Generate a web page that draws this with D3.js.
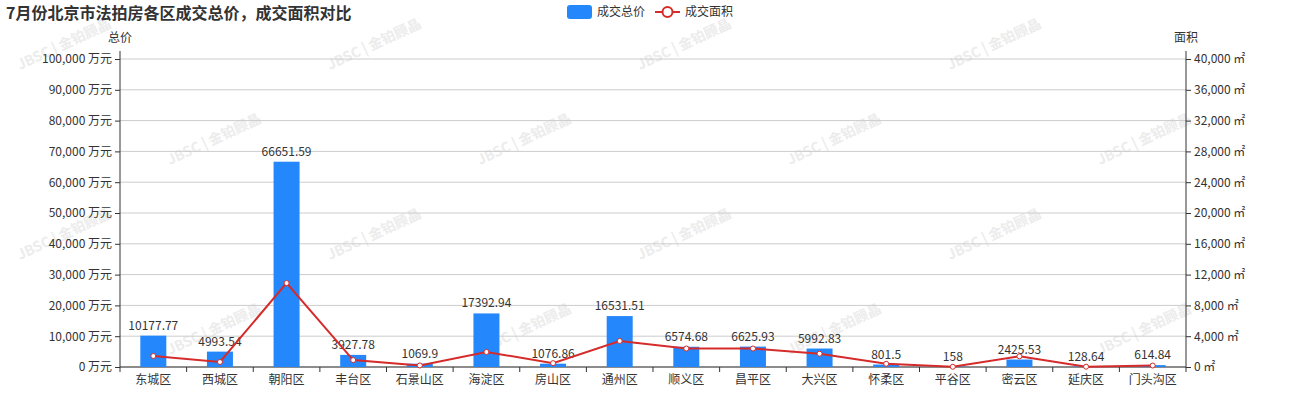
<!DOCTYPE html>
<html><head><meta charset="utf-8">
<script src="https://cdn.jsdelivr.net/npm/d3@7"></script>
<style>body{margin:0;background:#fff}text{font-family:"Microsoft YaHei","Noto Sans CJK SC",sans-serif}</style>
</head><body><svg width="1300" height="400"></svg>
<script>
const categories = ['东城区','西城区','朝阳区','丰台区','石景山区','海淀区','房山区','通州区','顺义区','昌平区','大兴区','怀柔区','平谷区','密云区','延庆区','门头沟区']
const price = [10177.77,4993.54,66651.59,3927.78,1069.9,17392.94,1076.86,16531.51,6574.68,6625.93,5992.83,801.5,158,2425.53,128.64,614.84]
const area = [1430,650,10900,900,200,1950,500,3380,2400,2400,1730,420,30,1390,40,190]
const leftTicks = d3.range(0, 100001, 10000)
const rightTicks = d3.range(0, 40001, 4000)

const svg = d3.select('svg')
const L = 120, R = 1186, T = 59, B = 367
const x = d3.scaleBand().domain(categories).range([L, R])
const y = d3.scaleLinear().domain([0, 100000]).range([B, T])
const y2 = d3.scaleLinear().domain([0, 40000]).range([B, T])
const fmt = d3.format(',')

// watermark
for (let i = 0; i < 4; i++) for (let j = 0; j < 4; j++) {
  svg.append('text').attr('transform', `translate(${20 + i * 310 + (j % 2) * 150},${70 + j * 95}) rotate(-25)`)
    .attr('fill', '#ececec').attr('font-size', 14).attr('font-weight', 'bold').text('JBSC | 金铂顾晶')
}

svg.append('g').selectAll('line').data(leftTicks).join('line')
  .attr('x1', L).attr('x2', R).attr('y1', d => y(d)).attr('y2', d => y(d)).attr('stroke', '#ccc')

const ga = svg.append('g').attr('transform', `translate(${L},0)`)
  .call(d3.axisLeft(y).tickValues(leftTicks).tickFormat(d => fmt(d) + ' 万元').tickSize(5))
const gr = svg.append('g').attr('transform', `translate(${R},0)`)
  .call(d3.axisRight(y2).tickValues(rightTicks).tickFormat(d => fmt(d) + ' ㎡').tickSize(5))
const gx = svg.append('g').attr('transform', `translate(0,${B})`)
  .call(d3.axisBottom(x).tickSize(5))
gx.selectAll('.tick line').attr('transform', `translate(${-x.bandwidth() / 2},0)`)
gx.append('line').attr('x1', R).attr('x2', R).attr('y1', 0).attr('y2', 5).attr('stroke', '#333')
;[ga, gr, gx].forEach(g => {
  g.selectAll('path,line').attr('stroke', '#333')
  g.selectAll('text').attr('fill', '#333').attr('font-size', 12)
})
gx.select('.domain').attr('d', `M${L},0H${R}`)
ga.select('.domain').attr('d', `M0,${B}V${T - 8}`)
gr.select('.domain').attr('d', `M0,${B}V${T - 8}`)

svg.append('text').attr('x', 108).attr('y', 42).attr('font-size', 12).attr('fill', '#333').text('总价')
svg.append('text').attr('x', 1174).attr('y', 42).attr('font-size', 12).attr('fill', '#333').text('面积')

const bw = 26
svg.append('g').selectAll('rect').data(price).join('rect')
  .attr('x', (d, i) => x(categories[i]) + x.bandwidth() / 2 - bw / 2).attr('width', bw)
  .attr('y', d => y(d)).attr('height', d => B - y(d)).attr('fill', '#2487fc')
svg.append('g').selectAll('text').data(price).join('text')
  .attr('x', (d, i) => x(categories[i]) + x.bandwidth() / 2).attr('y', d => y(d) - 6)
  .attr('text-anchor', 'middle').attr('font-size', 12).attr('fill', '#333').text(d => d)

const line = d3.line().x((d, i) => x(categories[i]) + x.bandwidth() / 2).y(d => y2(d))
svg.append('path').datum(area).attr('d', line).attr('fill', 'none').attr('stroke', '#d52b2b').attr('stroke-width', 2)
svg.append('g').selectAll('circle').data(area).join('circle')
  .attr('cx', (d, i) => x(categories[i]) + x.bandwidth() / 2).attr('cy', d => y2(d)).attr('r', 2.5)
  .attr('fill', '#fff').attr('stroke', '#d52b2b').attr('stroke-width', 1)

svg.append('text').attr('x', 6).attr('y', 19).attr('font-size', 16).attr('font-weight', 'bold').attr('fill', '#333')
  .text('7月份北京市法拍房各区成交总价，成交面积对比')

const lg = svg.append('g')
lg.append('rect').attr('x', 567).attr('y', 5).attr('width', 25).attr('height', 14).attr('rx', 3).attr('fill', '#2487fc')
lg.append('text').attr('x', 597).attr('y', 16).attr('font-size', 12).attr('fill', '#333').text('成交总价')
lg.append('line').attr('x1', 655).attr('x2', 680).attr('y1', 12).attr('y2', 12).attr('stroke', '#d52b2b').attr('stroke-width', 2)
lg.append('circle').attr('cx', 667.5).attr('cy', 12).attr('r', 5).attr('fill', '#fff').attr('stroke', '#d52b2b').attr('stroke-width', 2)
lg.append('text').attr('x', 685).attr('y', 16).attr('font-size', 12).attr('fill', '#333').text('成交面积')
</script></body></html>
